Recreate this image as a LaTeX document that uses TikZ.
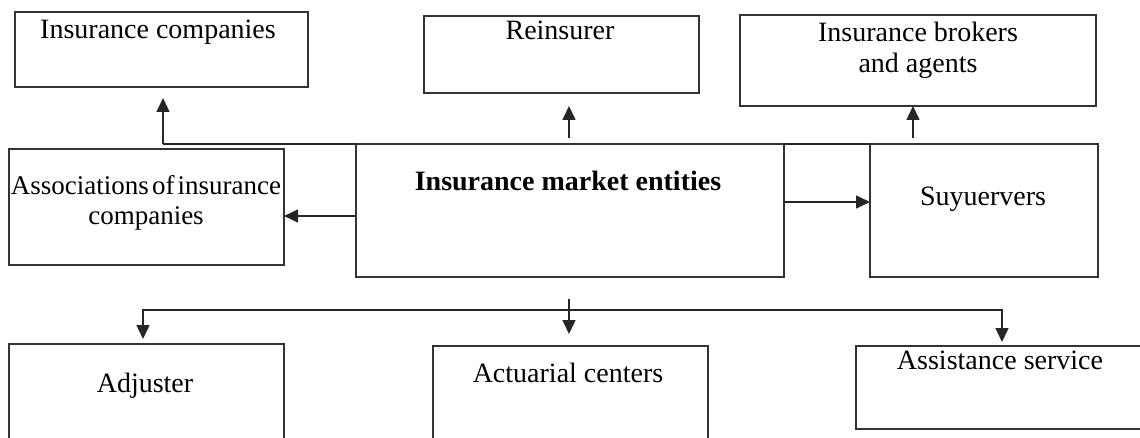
\documentclass[tikz,border=0pt]{standalone}
\usepackage{fontspec}
\setmainfont{Liberation Serif}
\usetikzlibrary{arrows.meta}
\begin{document}
\begin{tikzpicture}[x=1pt,y=-1pt,
  box/.style={draw=black!80, line width=1.5pt, inner sep=0pt, outer sep=0pt, rectangle},
  lbl/.style={anchor=base, inner sep=0pt, font=\fontsize{28}{31}\selectfont, align=center},
  conn/.style={draw=black!85, line width=1.5pt},
  arr/.style={conn, -{Triangle[length=14pt,width=13pt]}}]
\useasboundingbox (0,0) rectangle (1140,438);
\clip (0,0) rectangle (1140,438);
% boxes
\node[box, minimum width=293pt, minimum height=75pt]  (ic) at (161.5,49.5) {};
\node[box, minimum width=275pt, minimum height=77pt]  (re) at (561.5,54.5) {};
\node[box, minimum width=356pt, minimum height=91pt]  (br) at (918,60.5) {};
\node[box, minimum width=275pt, minimum height=116pt] (as) at (146.5,207) {};
\node[box, minimum width=428pt, minimum height=133pt] (me) at (570,210.5) {};
\node[box, minimum width=228pt, minimum height=133pt] (su) at (984,210.5) {};
\node[box, minimum width=275pt, minimum height=116pt] (ad) at (146.5,402) {};
\node[box, minimum width=275pt, minimum height=114pt] (ac) at (570.5,403) {};
\node[box, minimum width=294pt, minimum height=83pt]  (at) at (1003,387.5) {};
% texts
\node[lbl] (ict) at (158,38.5) {Insurance companies};
\node[lbl] (ret) at (560,40) {Reinsurer};
\node[lbl] (brt) at (918,73) {Insurance brokers\\and agents};
\node[lbl, font=\fontsize{27}{30}\selectfont] (ast) at (146,225) {\spaceskip=0.12em Associations of insurance\\companies};
\node[lbl, font=\fontsize{28}{31}\selectfont\bfseries] (met) at (568,191) {Insurance market entities};
\node[lbl] (sut) at (983,205.5) {Suyuervers};
\node[lbl] (adt) at (145,392) {Adjuster};
\node[lbl] (act) at (568,382) {Actuarial centers};
\node[lbl] (att) at (1000,369) {Assistance service};
% connectors
\coordinate (tl) at (163,144);
\draw[conn] (tl) -- (me.north west);
\draw[conn] (me.north east) -- (su.north west);
\draw[arr, shorten >=11pt] (tl) -- (tl |- ic.south);
\coordinate (rs) at (569,138);
\draw[arr, shorten >=13pt] (rs) -- (rs |- re.south);
\coordinate (bs) at (913,138);
\draw[arr] (bs) -- (bs |- br.south);
\coordinate (lw) at (356,216);
\draw[arr] (lw) -- (lw -| as.east);
\coordinate (rw) at (784,202);
\draw[arr] (rw) -- (rw -| su.west);
\coordinate (bt) at (569,299);
\coordinate (bl) at (143,310);
\coordinate (bq) at (1002,310);
\draw[arr, shorten >=12pt] (bt) -- (bt |- ac.north);
\draw[arr, shorten >=5pt] (bq) -- (bl) -- (bl |- ad.north);
\draw[arr, shorten >=4pt] (bl) -- (bq) -- (bq |- at.north);
\end{tikzpicture}
\end{document}
